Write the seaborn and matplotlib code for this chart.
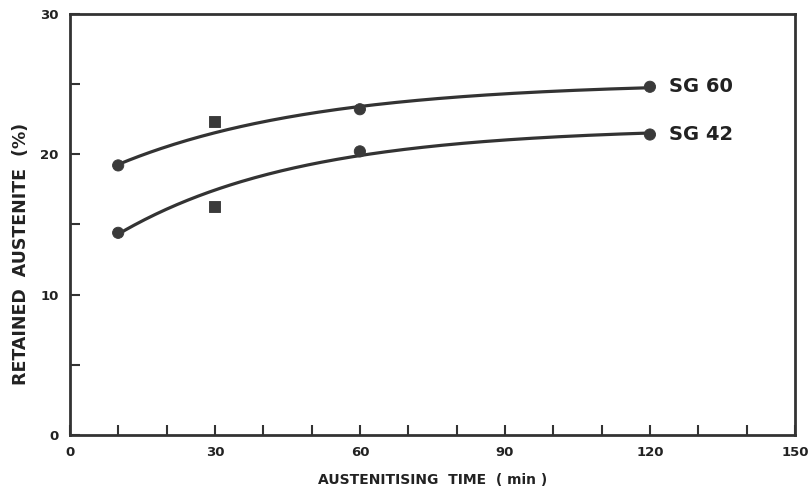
import matplotlib
matplotlib.use("Agg")
import matplotlib.pyplot as plt
import seaborn as sns
import numpy as np
import pandas as pd
from matplotlib.ticker import MultipleLocator

# data
time_min = [10, 30, 60, 120]
sg60 = [19.2, 22.3, 23.2, 24.8]
sg42 = [14.4, 16.3, 20.2, 21.4]
series_names = ["SG 60", "SG 42"]
point_shape = ["dot", "square", "dot", "dot"]
# the hand-drawn curves follow the outer points more closely than the 30 min ones
fit_weight = [4, 1, 4, 4]

x_ticks = [0, 30, 60, 90, 120, 150]
y_ticks = [0, 10, 20, 30]

ink = "#333333"

sns.set_theme(style="white")
plt.rcParams["font.family"] = ["DejaVu Sans"]

df = pd.DataFrame({
    "time": time_min * 2,
    "ra": sg60 + sg42,
    "grade": [series_names[0]] * 4 + [series_names[1]] * 4,
    "shape": point_shape * 2,
})


def saturating_fit(x, y, w):
    # y = a - b * exp(-x / c), best c by grid search, a and b by weighted least squares
    x = np.asarray(x, float)
    y = np.asarray(y, float)
    w = np.sqrt(np.asarray(w, float))
    best = None
    for c in np.linspace(8, 150, 600):
        e = np.exp(-x / c)
        A = np.column_stack([np.ones_like(e), -e])
        coef, *_ = np.linalg.lstsq(A * w[:, None], y * w, rcond=None)
        err = np.sum(((A @ coef - y) * w) ** 2)
        if best is None or err < best[0]:
            best = (err, coef, c)
    _, (a, b), c = best
    return lambda t: a - b * np.exp(-t / c)


fig = plt.figure(figsize=(8.12, 4.91), dpi=100)
ax = fig.add_axes([0.086, 0.114, 0.893, 0.858])

for name, vals in zip(series_names, [sg60, sg42]):
    f = saturating_fit(time_min, vals, fit_weight)
    xs = np.linspace(time_min[0], time_min[-1], 200)
    sns.lineplot(x=xs, y=f(xs), ax=ax, color=ink, linewidth=2.3)
    ax.text(time_min[-1] + 4, vals[-1], name, fontsize=14, fontweight="bold",
            color="#222222", va="center", ha="left")

sns.scatterplot(data=df, x="time", y="ra", style="shape", ax=ax,
                markers={"dot": "o", "square": "s"}, s=65,
                color="#3a3a3a", edgecolor="#3a3a3a", legend=False, zorder=5)

ax.set_xlim(0, 150)
ax.set_ylim(0, 30)
ax.set_xticks(x_ticks)
ax.set_yticks(y_ticks)
ax.xaxis.set_minor_locator(MultipleLocator(10))
ax.yaxis.set_minor_locator(MultipleLocator(5))
ax.tick_params(which="both", direction="in", color=ink, width=1.5,
               bottom=True, left=True, top=False, right=False)
ax.tick_params(which="major", length=7, labelsize=9.5, pad=8)
ax.tick_params(which="minor", length=7)
for lab in ax.get_xticklabels() + ax.get_yticklabels():
    lab.set_fontweight("bold")
    lab.set_color("#222222")

for sp in ax.spines.values():
    sp.set_color(ink)
    sp.set_linewidth(2)
    sp.set_visible(True)

ax.set_xlabel("AUSTENITISING  TIME  ( min )", fontsize=10, fontweight="bold",
              color="#222222", labelpad=10)
ax.set_ylabel("RETAINED  AUSTENITE  (%)", fontsize=12.5, fontweight="bold",
              color="#222222")
ax.yaxis.set_label_coords(-0.055, 0.43)
ax.grid(False)

fig.savefig("out.png", dpi=100, facecolor="white")
